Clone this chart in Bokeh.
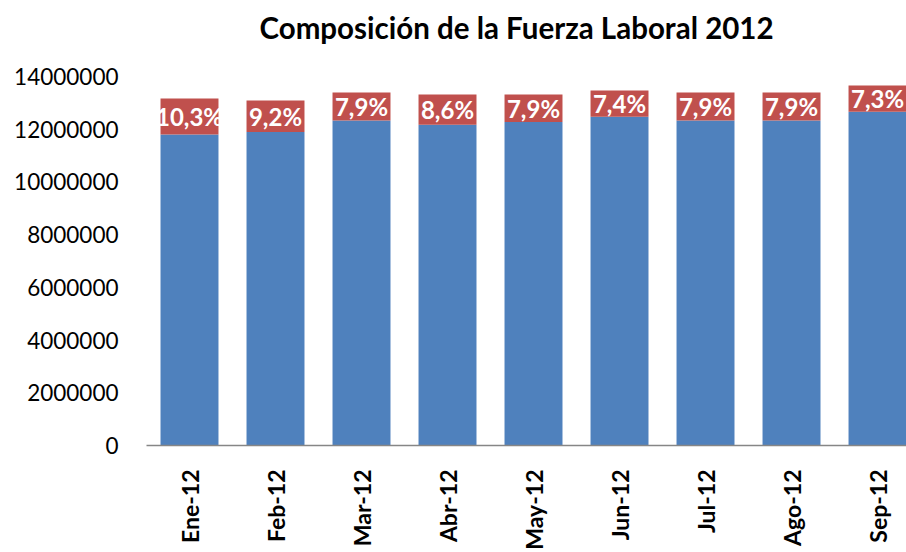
import math
from bokeh.plotting import figure
from bokeh.models import Range1d, FixedTicker, NumeralTickFormatter, ColumnDataSource, Title
from bokeh.core.properties import value
from bokeh.embed import file_html
from bokeh.resources import INLINE

title_text = "Composición de la Fuerza Laboral 2012"
months = ["Ene-12", "Feb-12", "Mar-12", "Abr-12", "May-12", "Jun-12", "Jul-12", "Ago-12", "Sep-12"]
ocupados = [11800000, 11890000, 12330000, 12170000, 12270000, 12470000, 12330000, 12330000, 12660000]
desocupados = [1360000, 1200000, 1060000, 1150000, 1050000, 1000000, 1060000, 1060000, 1000000]
tasa = ["10,3%", "9,2%", "7,9%", "8,6%", "7,9%", "7,4%", "7,9%", "7,9%", "7,3%"]
y_ticks = [0, 2000000, 4000000, 6000000, 8000000, 10000000, 12000000, 14000000]

FONT = "Lato"
BLUE = "#4F81BD"
RED = "#C0504D"

xs = list(range(len(months)))
totals = [o + d for o, d in zip(ocupados, desocupados)]
mids = [o + d / 2 for o, d in zip(ocupados, desocupados)]

src = ColumnDataSource(dict(x=xs, ocup=ocupados, tot=totals, mid=mids, lab=tasa))

p = figure(width=906, height=552,
           x_range=Range1d(-0.5, 8.337), y_range=Range1d(0, 14226000),
           output_backend="svg", toolbar_location=None,
           min_border_left=146, min_border_right=0,
           min_border_top=70, min_border_bottom=107)

p.vbar(x="x", bottom=0, top="ocup", width=0.674, color=BLUE, line_color=None, source=src)
p.vbar(x="x", bottom="ocup", top="tot", width=0.674, color=RED, line_color=None, source=src)
p.text(x="x", y="mid", text="lab", source=src, text_color="white",
       text_font=value(FONT), text_font_style="bold", text_font_size="24px",
       text_align="center", text_baseline="middle")

# spacer between frame and title, then the title itself (stacked outward)
p.add_layout(Title(text=" ", text_font_size="10px", standoff=8), "above")
p.add_layout(Title(text=title_text, align="left", offset=113, standoff=10,
                   text_font=FONT, text_font_size="29.5px", text_font_style="bold",
                   text_color="black"), "above")

p.outline_line_color = None
p.xgrid.grid_line_color = None
p.ygrid.grid_line_color = None
p.background_fill_color = "white"
p.border_fill_color = "white"

ya = p.yaxis[0]
ya.ticker = FixedTicker(ticks=y_ticks)
ya.formatter = NumeralTickFormatter(format="0")
ya.axis_line_color = None
ya.major_tick_line_color = None
ya.minor_tick_line_color = None
ya.major_tick_out = 0
ya.major_tick_in = 0
ya.major_label_standoff = 28
ya.major_label_text_font = FONT
ya.major_label_text_font_size = "22.5px"
ya.major_label_text_color = "black"

xa = p.xaxis[0]
xa.ticker = FixedTicker(ticks=xs)
xa.major_label_overrides = {i: m for i, m in enumerate(months)}
xa.major_label_orientation = math.pi / 2
xa.axis_line_color = "#868686"
xa.axis_line_width = 1.5
xa.major_tick_line_color = None
xa.minor_tick_line_color = None
xa.major_tick_out = 0
xa.major_tick_in = 0
xa.major_label_standoff = 24
xa.major_label_text_font = FONT
xa.major_label_text_font_size = "23px"
xa.major_label_text_font_style = "bold"
xa.major_label_text_color = "black"

open("out.html", "w").write(file_html(p, INLINE))
